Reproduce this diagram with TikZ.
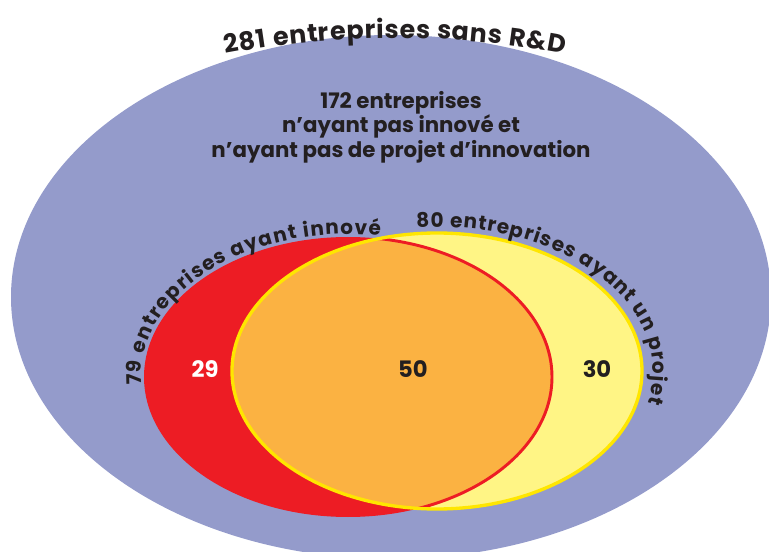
\documentclass[tikz,border=0pt]{standalone}
\usepackage{fontspec}
\setmainfont{Poppins}
\usetikzlibrary{decorations.text}

\definecolor{vennblue}{RGB}{148,155,203}
\definecolor{vennred}{RGB}{237,28,36}
\definecolor{vennlight}{RGB}{255,245,133}
\definecolor{vennyellow}{RGB}{255,230,0}
\definecolor{vennorange}{RGB}{251,178,66}
\definecolor{venntext}{RGB}{35,31,32}

\newcommand{\toplabelfont}{\bfseries\fontsize{19}{21}\selectfont}
\newcommand{\arclabelfont}{\bfseries\fontsize{15}{17}\selectfont}

\tikzset{
  curvedlabel/.style={decorate, decoration={text along path, text color=venntext, text align={fit to path}, text={#1}}},
  numlabel/.style={font=\bfseries\fontsize{17}{19}\selectfont, text=venntext},
}

\begin{document}
\begin{tikzpicture}[x=0.75pt,y=0.75pt,yscale=1,xscale=1]
        \useasboundingbox (0,0) rectangle (769,551);
        \clip (0,0) rectangle (769,551);
        \coordinate (bluec) at (391,254);
        \coordinate (redc) at (348,174);
        \coordinate (yelc) at (437,180);

        %Shape: Ellipse [sans R&D]
        \fill [vennblue] (bluec) ellipse [x radius=380, y radius=262];
        %Shape: Ellipse [ayant innove]
        \fill [vennred] (redc) ellipse [x radius=204, y radius=140];
        %Shape: Ellipse [ayant un projet]
        \fill [vennlight] (yelc) ellipse [x radius=205, y radius=138];
        %Shape: both
        \begin{scope}
          \clip (redc) ellipse [x radius=204, y radius=140];
          \fill [vennorange] (yelc) ellipse [x radius=205, y radius=138];
        \end{scope}
        \begin{scope}
          \clip (yelc) ellipse [x radius=205, y radius=138];
          \draw [vennred, line width=2.2pt] (redc) ellipse [x radius=204, y radius=140];
        \end{scope}
        \draw [vennyellow, line width=2.5pt] (yelc) ellipse [x radius=205, y radius=138];

        % Curved text
        \path [curvedlabel={|\toplabelfont|281 entreprises sans R{\&}D}] (395,-398) ++(100.7:911) arc [start angle=100.7, end angle=79.3, radius=911];
        % Curved text
        \path [curvedlabel={|\arclabelfont|79 entreprises ayant innové}] (redc) ++(183.2:207 and 143) arc [start angle=183.2, end angle=81, x radius=207, y radius=143];
        % Curved text
        \path [curvedlabel={|\arclabelfont|80 entreprises ayant un projet}] (yelc) ++(95.4:216 and 144) arc [start angle=95.4, end angle=-12.8, x radius=216, y radius=144];

        % Text Node
        \draw (401,424) node (nopro) [font=\bfseries\fontsize{16}{18.4}\selectfont, text=venntext] [align=center] {172 entreprises\\n’ayant pas innové et\\n’ayant pas de projet d’innovation};
        % Text Node
        \draw (205,182) node (only29) [numlabel, text=white] {29};
        % Text Node
        \draw (413,182) node (both50) [numlabel] {50};
        % Text Node
        \draw (597,182) node (only30) [numlabel] {30};

\end{tikzpicture}
\end{document}
